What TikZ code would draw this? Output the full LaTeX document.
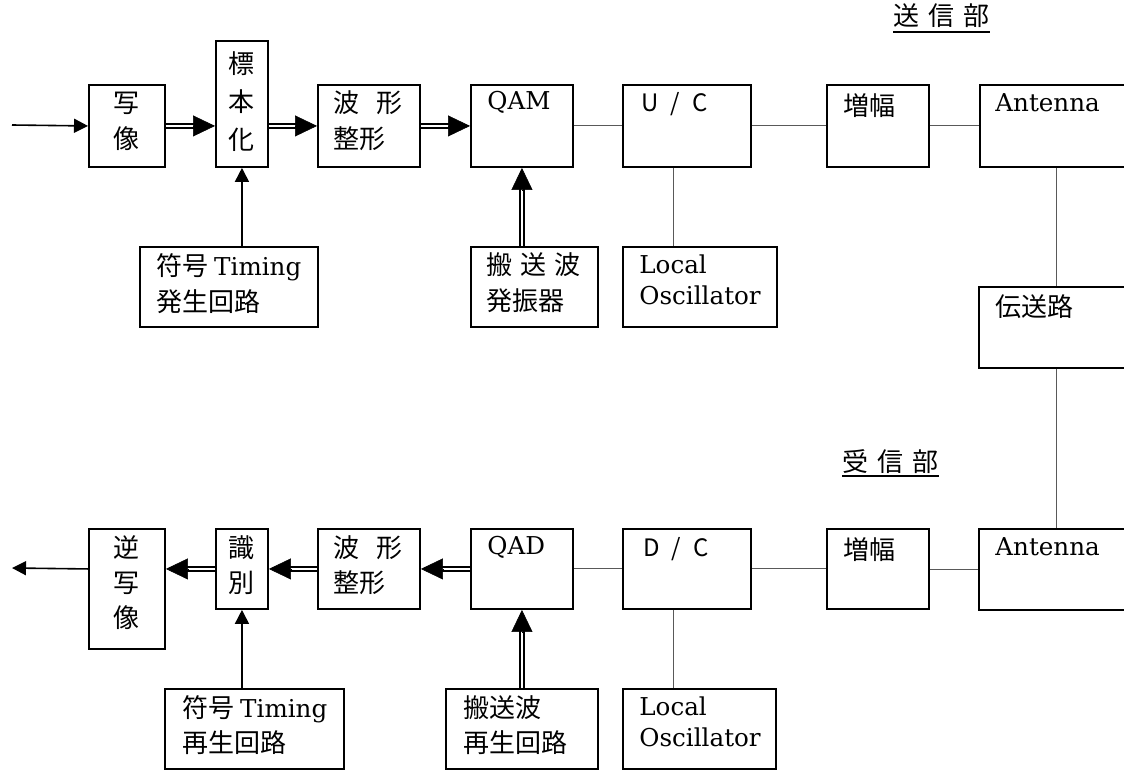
\documentclass[tikz,border=0pt]{standalone}
\usepackage{fontspec}
\setmainfont{Noto Sans CJK JP}
\newfontfamily\lat{DejaVu Serif}
\usetikzlibrary{arrows.meta,calc}
\tikzset{
 box/.style={draw, line width=0.95pt, inner sep=0pt, anchor=north west},
 txt/.style={inner sep=0pt, font=\fontsize{13}{18}\selectfont},
 ltxt/.style={inner sep=0pt, font=\lat\fontsize{12.3}{15.5}\selectfont},
 uctxt/.style={inner sep=0pt, font=\fontsize{12}{14}\selectfont},
 conn/.style={draw=black!65, line width=0.5pt},
 sarrow/.style={line width=0.8pt, -{Triangle[length=7pt,width=7pt]}},
 dshaft/.style={double, double distance=1.1pt, line width=0.75pt},
 dtip/.style={line width=0.3pt, -{Triangle[length=11pt,width=10.5pt]}},
 uline/.style={line width=1pt},
}
\newcommand\bx[5]{\node[box, minimum width=#4*0.5pt, minimum height=#5*0.5pt] (#1) at (#2,#3) {};}
\newcommand\dblarr[2]{\draw[dshaft] (#1) -- ($(#2)!10pt!(#1)$); \draw[dtip] ($(#2)!11pt!(#1)$) -- (#2);}
\newcommand\latin[1]{{\lat\fontsize{12.3}{18}\selectfont #1}}
\begin{document}
\begin{tikzpicture}[x=0.5pt,y=-0.5pt]
\useasboundingbox (0,0) rectangle (1124,770);
% headers
\node[txt, anchor=base west] (h1) at (893,26) {送\hspace{0.35em}信\hspace{0.35em}部};
\draw[uline] ([yshift=-3pt]h1.base west) -- ([yshift=-3pt]h1.base east);
\node[txt, anchor=base west] (h2) at (842,471) {受\hspace{0.35em}信\hspace{0.35em}部};
\draw[uline] ([yshift=-2.5pt]h2.base west) -- ([yshift=-2.5pt]h2.base east);
% top row boxes
\bx{tA}{88}{84}{76}{82}
\bx{tB}{215}{40}{52}{126}
\bx{tC}{317}{84}{102}{82}
\bx{tD}{470}{84}{102}{82}
\bx{tE}{622}{84}{128}{82}
\bx{tF}{826}{84}{102}{82}
\bx{tG}{979}{84}{200}{82}
\bx{tH}{139}{246}{178}{80}
\bx{tI}{470}{246}{127}{80}
\bx{tJ}{622}{246}{154}{80}
\bx{ch}{978}{286}{200}{81}
% bottom row boxes
\bx{bA}{88}{528}{76}{120}
\bx{bB}{215}{528}{52}{80}
\bx{bC}{317}{528}{102}{80}
\bx{bD}{470}{528}{102}{80}
\bx{bE}{622}{528}{128}{80}
\bx{bF}{826}{528}{102}{80}
\bx{bG}{978}{528}{200}{81}
\bx{bH}{164}{688}{179}{80}
\bx{bI}{445}{688}{152}{80}
\bx{bJ}{622}{688}{153}{80}
% top texts
\node[txt, align=center] (xA) at (126,121) {写\\像};
\node[txt, align=center, font=\fontsize{13}{19}\selectfont] (xB) at (241,102) {標\\本\\化};
\node[txt, align=left, anchor=west] (xC) at (333,121) {波\hspace{0.65em}形\\整形};
\node[ltxt, anchor=base west] (xD) at (487,110) {QAM};
\node[uctxt, anchor=base west] (xE) at (641,112) {U\hspace{0.5em}/\hspace{0.5em}C};
\node[txt, anchor=west] (xF) at (843,106) {増幅};
\node[ltxt, anchor=base west] (xG) at (995,112) {Antenna};
\node[txt, anchor=west] (xch) at (995,307) {伝送路};
\node[txt, align=left, anchor=west] (xH) at (156,283.5) {符号 \latin{Timing}\\発生回路};
\node[txt, align=left, anchor=west] (xI) at (486,282.5) {搬\hspace{0.3em}送\hspace{0.3em}波\\発振器};
\node[ltxt, align=left, anchor=west] (xJ) at (639,280) {Local\\Oscillator};
% bottom texts
\node[txt, align=center, font=\fontsize{13}{17.5}\selectfont] (yA) at (126,583) {逆\\写\\像};
\node[txt, align=center, font=\fontsize{13}{17.5}\selectfont] (yB) at (241,565.5) {識\\別};
\node[txt, align=left, anchor=west, font=\fontsize{13}{17.5}\selectfont] (yC) at (333,565.5) {波\hspace{0.65em}形\\整形};
\node[ltxt, anchor=base west] (yD) at (487,554) {QAD};
\node[uctxt, anchor=base west] (yE) at (643,556) {D\hspace{0.5em}/\hspace{0.5em}C};
\node[txt, anchor=west] (yF) at (843,550) {増幅};
\node[ltxt, anchor=base west] (yG) at (995,555) {Antenna};
\node[txt, align=left, anchor=west, font=\fontsize{13}{17.5}\selectfont] (yH) at (182,725.5) {符号 \latin{Timing}\\再生回路};
\node[txt, align=left, anchor=west, font=\fontsize{13}{17.5}\selectfont] (yI) at (463,725.5) {搬送波\\再生回路};
\node[ltxt, align=left, anchor=west] (yJ) at (639,722) {Local\\Oscillator};
% coordinates
\coordinate (in) at (12,125);
\coordinate (out) at (12,568);
\coordinate (ue) at ([xshift=25.5pt]tE.south west);
\coordinate (de) at ([xshift=25.5pt]bE.south west);
\coordinate (cg) at ([xshift=38.5pt]tG.south west);
% top connectors
\draw[sarrow] (in) -- (tA.west);
\coordinate (a1) at (tA.east -| tB.west);
\dblarr{tA.east}{a1}
\coordinate (a2) at (tC.west -| tB.east);
\dblarr{a2}{tC.west}
\dblarr{tC.east}{tD.west}
\draw[conn] (tD.east) -- (tE.west);
\draw[conn] (tE.east) -- (tF.west);
\draw[conn] (tF.east) -- (tG.west);
\coordinate (a3) at (tB.south |- tH.north);
\draw[sarrow] (a3) -- (tB.south);
\coordinate (a4) at (tD.south |- tI.north);
\dblarr{a4}{tD.south}
\draw[conn] (ue) -- (ue |- tJ.north);
\draw[conn] (cg) -- (cg |- ch.north);
\draw[conn] (cg |- ch.south) -- (cg |- bG.north);
% bottom connectors
\draw[conn] (bG.west -| bF.east) -- (bG.west);
\draw[conn] (bE.east) -- (bF.west);
\draw[conn] (bD.east) -- (bE.west);
\dblarr{bD.west}{bC.east}
\dblarr{bC.west}{bB.east}
\coordinate (b1) at (bB.west -| bA.east);
\dblarr{bB.west}{b1}
\coordinate (b2) at (bA.west |- bB.west);
\draw[sarrow] (b2) -- (out);
\coordinate (b3) at (bB.south |- bH.north);
\draw[sarrow] (b3) -- (bB.south);
\coordinate (b4) at (bD.south |- bI.north);
\dblarr{b4}{bD.south}
\draw[conn] (de) -- (de |- bJ.north);
\end{tikzpicture}
\end{document}
